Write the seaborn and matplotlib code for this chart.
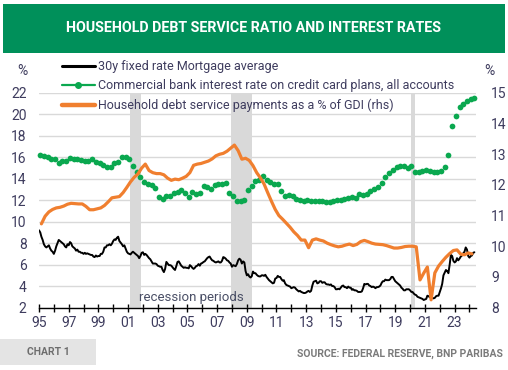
import matplotlib
matplotlib.use("Agg")
import matplotlib.pyplot as plt
import matplotlib.dates as mdates
from matplotlib.lines import Line2D
from matplotlib.patches import Rectangle
import pandas as pd
import seaborn as sns

# --- data ---
# 30y fixed mortgage rate, monthly from Jan 1995 (lhs, %)
mortgage = [
    9.2, 9.0, 8.6, 8.3, 7.9, 7.7, 7.6, 7.7, 7.8, 7.5, 7.3, 7.2,          # 1995
    7.0, 7.3, 7.7, 8.0, 8.3, 8.2, 8.1, 8.0, 7.9, 7.7, 7.6, 7.9,          # 1996
    7.8, 8.1, 8.0, 7.7, 7.6, 7.5, 7.3, 7.4, 7.2, 7.2, 7.1, 7.1,          # 1997
    7.0, 7.1, 7.0, 7.05, 7.0, 6.95, 6.9, 6.9, 6.75, 6.7, 6.85, 6.75,     # 1998
    6.8, 6.8, 7.0, 7.0, 7.2, 7.6, 7.6, 7.8, 7.8, 7.9, 7.8, 7.95,         # 1999
    8.2, 8.35, 8.3, 8.5, 8.6, 8.2, 8.05, 7.9, 7.7, 7.8, 7.5, 7.2,        # 2000
    7.05, 7.0, 6.95, 7.1, 7.2, 7.1, 7.0, 6.9, 6.8, 6.6, 6.8, 7.1,        # 2001
    7.15, 6.9, 7.0, 6.9, 6.75, 6.6, 6.5, 6.3, 6.1, 6.1, 6.1, 6.05,       # 2002
    5.9, 5.85, 5.8, 5.8, 5.5, 5.3, 5.6, 6.25, 6.1, 5.95, 5.95, 5.9,      # 2003
    5.75, 5.6, 5.5, 5.85, 6.25, 6.3, 6.1, 5.9, 5.8, 5.7, 5.75, 5.7,      # 2004
    5.7, 5.65, 5.95, 5.85, 5.7, 5.6, 5.7, 5.85, 5.9, 6.05, 5.9, 6.1,     # 2005
    6.15, 6.25, 6.3, 6.45, 6.6, 6.7, 6.75, 6.55, 6.4, 6.35, 6.25, 6.2,   # 2006
    6.25, 6.3, 6.2, 6.2, 6.35, 6.7, 6.65, 6.55, 6.4, 6.35, 6.2, 6.1,     # 2007
    5.8, 5.95, 5.9, 5.85, 6.05, 6.4, 6.55, 6.45, 6.1, 6.3, 6.2, 5.4,     # 2008
    5.0, 5.1, 4.9, 4.8, 4.9, 5.35, 5.2, 5.2, 5.05, 4.95, 4.9, 4.9,       # 2009
    5.0, 5.0, 4.95, 5.05, 4.85, 4.7, 4.55, 4.45, 4.35, 4.25, 4.3, 4.7,   # 2010
    4.75, 4.95, 4.85, 4.85, 4.65, 4.5, 4.55, 4.25, 4.1, 4.05, 4.0, 3.95, # 2011
    3.8, 3.85, 3.9, 3.85, 3.7, 3.6, 3.5, 3.55, 3.45, 3.4, 3.35, 3.35,    # 2012
    3.4, 3.5, 3.55, 3.45, 3.55, 4.05, 4.4, 4.45, 4.5, 4.25, 4.3, 4.45,   # 2013
    4.45, 4.3, 4.35, 4.35, 4.2, 4.15, 4.15, 4.1, 4.15, 4.0, 4.0, 3.9,    # 2014
    3.7, 3.7, 3.75, 3.7, 3.85, 4.0, 4.05, 3.9, 3.9, 3.8, 3.95, 3.85,     # 2015
    3.85, 3.65, 3.7, 3.6, 3.6, 3.55, 3.45, 3.45, 3.45, 3.5, 3.8, 4.2,    # 2016
    4.15, 4.2, 4.2, 4.05, 4.0, 3.9, 3.95, 3.9, 3.8, 3.9, 3.9, 3.95,      # 2017
    4.05, 4.3, 4.45, 4.45, 4.6, 4.55, 4.55, 4.55, 4.65, 4.85, 4.85, 4.65,  # 2018
    4.45, 4.35, 4.25, 4.15, 4.05, 3.85, 3.75, 3.6, 3.6, 3.7, 3.7, 3.7,   # 2019
    3.6, 3.45, 3.45, 3.3, 3.2, 3.15, 3.0, 2.95, 2.9, 2.85, 2.8, 2.7,     # 2020
    2.75, 2.8, 3.1, 3.05, 2.95, 2.95, 2.9, 2.85, 2.9, 3.05, 3.1, 3.1,    # 2021
    3.45, 3.8, 4.2, 5.0, 5.25, 5.5, 5.4, 5.2, 6.0, 6.9, 6.8, 6.35,       # 2022
    6.2, 6.3, 6.6, 6.4, 6.55, 6.75, 6.85, 7.05, 7.2, 7.6, 7.4, 6.8,      # 2023
    6.65, 6.8, 6.85, 7.1, 7.15,                                          # 2024
]

# credit card plan rate, quarterly from Feb 1995 (lhs, %)
card_rate = [
    16.2, 16.1, 16.0, 15.85,  15.8, 15.5, 15.65, 15.65,
    15.95, 15.85, 15.8, 15.75,  15.7, 15.7, 15.8, 15.6,
    15.45, 15.3, 15.1, 15.1,  15.5, 15.6, 16.0, 16.05,
    15.85, 15.2, 14.6, 14.15,  13.7, 13.55, 13.4, 13.15,
    12.3, 12.1, 12.4, 12.35,  12.65, 12.75, 13.0, 12.7,
    12.3, 12.8, 12.6, 12.7,  13.35, 13.2, 13.05, 13.4,
    13.5, 13.55, 13.6, 12.7,  12.4, 11.9, 11.95, 12.05,
    12.95, 13.35, 13.8, 13.9,  14.25, 13.9, 13.7, 13.5,
    13.5, 12.9, 12.4, 12.45,  12.35, 12.1, 12.0, 11.95,
    12.0, 11.95, 11.95, 11.9,  11.9, 11.88, 11.85, 11.95,
    12.03, 12.06, 12.12, 12.19,  12.28, 12.2, 12.6, 12.5,
    12.6, 12.85, 13.05, 13.2,  13.65, 14.15, 14.5, 14.8,
    15.1, 15.2, 15.15, 15.0,  15.2, 14.6, 14.65, 14.7,
    14.8, 14.7, 14.6, 14.6,  14.7, 15.1, 16.2, 18.9,
    19.9, 20.7, 21.0, 21.3,  21.45, 21.5,
]

# household debt service ratio, quarterly (rhs, % of GDI)
debt_service = [
    10.73, 10.98, 11.12, 11.20,  11.25, 11.27, 11.31, 11.37,
    11.40, 11.39, 11.38, 11.38,  11.30, 11.19, 11.19, 11.22,
    11.25, 11.33, 11.45, 11.58,  11.60, 11.62, 11.75, 11.92,
    12.10, 12.25, 12.36, 12.55,  12.68, 12.47, 12.40, 12.37,
    12.37, 12.33, 12.22, 12.15,  12.19, 12.17, 12.22, 12.28,
    12.40, 12.64, 12.68, 12.70,  12.74, 12.78, 12.85, 12.95,
    13.00, 13.03, 13.10, 13.20,  13.30, 13.12, 12.84, 12.87,
    12.80, 12.63, 12.40, 12.23,  12.03, 11.74, 11.46, 11.20,
    11.00, 10.88, 10.75, 10.62,  10.47, 10.35, 10.20, 10.20,
    9.95, 10.20, 10.24, 10.20,  10.17, 10.10, 10.05, 10.01,
    9.98, 10.00, 10.04, 10.07,  10.02, 10.06, 10.15, 10.19,
    10.15, 10.10, 10.07, 10.06,  10.05, 10.02, 9.98, 9.94,
    9.94, 9.96, 9.99, 10.00,  10.00, 9.98, 8.90, 9.12,
    9.32, 8.25, 9.13, 9.35,  9.50, 9.64, 9.76, 9.86,
    9.88, 9.74, 9.72, 9.78,  9.75,
]

recessions = [("2001-03-01", "2001-11-15"), ("2007-12-01", "2009-05-20"),
              ("2020-02-01", "2020-04-20")]

left_ticks = [2, 4, 6, 8, 10, 12, 14, 16, 18, 20, 22]
right_ticks = [8, 9, 10, 11, 12, 13, 14, 15]
label_years = list(range(1995, 2024, 2))
all_years = list(range(1995, 2025))

GREEN = "#0AA84F"
ORANGE = "#F07F2F"
TXT = "#3E3C5E"

df_mort = pd.DataFrame({"date": pd.date_range("1995-01-01", periods=len(mortgage), freq="MS"),
                        "value": mortgage})
df_card = pd.DataFrame({"date": pd.date_range("1995-02-01", periods=len(card_rate), freq="3MS"),
                        "value": card_rate})
df_dsr = pd.DataFrame({"date": pd.date_range("1995-03-01", periods=len(debt_service), freq="3MS"),
                       "value": debt_service})

sns.set_theme(style="white")
plt.rcParams["font.family"] = ["Roboto", "DejaVu Sans"]

fig = plt.figure(figsize=(5.08, 3.70), dpi=100)
ax = fig.add_axes([39 / 508, 1 - 307.5 / 370, 437 / 508, 214.5 / 370])
ax2 = ax.twinx()

for start, end in recessions:
    ax.axvspan(pd.Timestamp(start), pd.Timestamp(end), color="#D9D9D9", lw=0, zorder=0)

sns.lineplot(data=df_mort, x="date", y="value", color="black", lw=1.4, ax=ax, zorder=3)
sns.scatterplot(data=df_card, x="date", y="value", color=GREEN, s=17, linewidth=0,
                ax=ax, zorder=4, clip_on=False)
sns.lineplot(data=df_dsr, x="date", y="value", color=ORANGE, lw=2.3, ax=ax2, zorder=3)

ax.set_xlim(pd.Timestamp("1995-01-01"), pd.Timestamp("2024-06-10"))
ax.set_ylim(2, 22)
ax2.set_ylim(8, 15)
ax.set_yticks(left_ticks)
ax2.set_yticks(right_ticks)
ax.yaxis.grid(True, color="#D9D9D9", lw=1)
ax.set_axisbelow(True)

ax.set_xticks([pd.Timestamp(f"{y}-01-01") for y in label_years])
ax.set_xticks([pd.Timestamp(f"{y}-01-01") for y in all_years], minor=True)
ax.xaxis.set_major_formatter(mdates.DateFormatter("%y"))

for a in (ax, ax2):
    a.set_xlabel("")
    a.set_ylabel("")
    for s in a.spines.values():
        s.set_visible(False)
ax.spines["bottom"].set_visible(True)
ax.spines["bottom"].set_color("black")
ax.spines["bottom"].set_linewidth(1)

ax.tick_params(axis="x", which="both", direction="inout", length=6, width=1,
               color="black", bottom=True, pad=3, labelsize=10, labelcolor=TXT)
ax.tick_params(axis="y", length=0, pad=9, labelsize=10, labelcolor=TXT)
ax2.tick_params(axis="y", length=0, pad=11, labelsize=10, labelcolor=TXT)

ax.text(pd.Timestamp("2001-10-01"), 2.9, "recession periods", ha="left", va="center",
        fontsize=9.5, color="#4A4F66")

fig.text(22 / 508, 1 - 71 / 370, "%", ha="center", va="center", fontsize=10, color=TXT)
fig.text(489.5 / 508, 1 - 71 / 370, "%", ha="center", va="center", fontsize=10, color=TXT)

handles = [
    Line2D([], [], color="black", lw=2.2),
    Line2D([], [], color=GREEN, lw=1.6, marker="o", markersize=4),
    Line2D([], [], color=ORANGE, lw=3.2),
]
labels = [
    "30y fixed rate Mortgage average",
    "Commercial bank interest rate on credit card plans, all accounts",
    "Household debt service payments as a % of GDI (rhs)",
]
fig.legend(handles, labels, loc="upper left", bbox_to_anchor=(62 / 508, 1 - 60 / 370),
           frameon=False, fontsize=9, handlelength=2.6, handletextpad=0.3,
           labelspacing=0.5, borderpad=0, borderaxespad=0, labelcolor=TXT)

# header banner and footer
fig.add_artist(Rectangle((3 / 508, 1 - 53 / 370), 502 / 508, 49 / 370,
                         transform=fig.transFigure, color="#00905A", lw=0))
fig.text(0.5, 1 - 28.5 / 370, "HOUSEHOLD DEBT SERVICE RATIO AND INTEREST RATES",
         ha="center", va="center", color="white", fontsize=10.3, weight="bold")
fig.add_artist(Rectangle((0, 1 - 365 / 370), 96 / 508, 26 / 370,
                         transform=fig.transFigure, color="#E4E4E4", lw=0))
fig.text(48 / 508, 1 - 352 / 370, "CHART 1", ha="center", va="center",
         fontsize=7.5, weight="bold", color="#6E6E6E")
fig.text(503 / 508, 1 - 354 / 370, "SOURCE: FEDERAL RESERVE, BNP PARIBAS",
         ha="right", va="center", fontsize=7.5, weight="bold", color="#7A7A7A")

fig.savefig("out.png", dpi=100)
plt.close(fig)
